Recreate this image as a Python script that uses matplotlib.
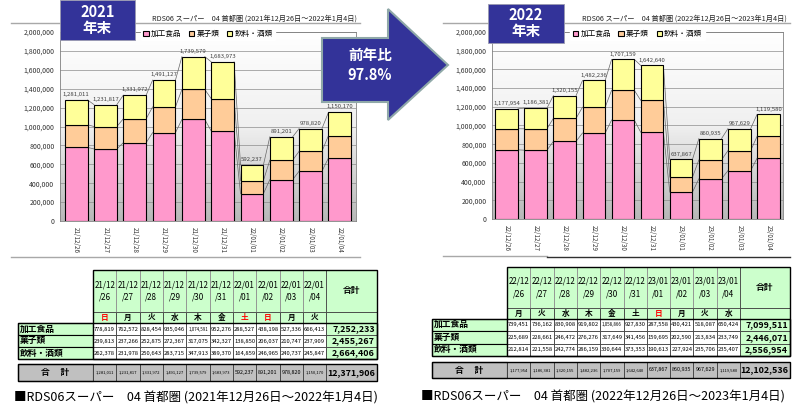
import numpy as np
import matplotlib.pyplot as plt
from matplotlib.patches import Rectangle, Polygon
from matplotlib.colors import LinearSegmentedColormap

plt.rcParams['font.family'] = ['Noto Sans CJK JP', 'DejaVu Sans']

# series
series_names = ['加工食品', '菓子類', '飲料・酒類']
series_colors = ['#FF99CC', '#FFCC99', '#FFFF99']

# 2021年末
dates_2021 = ['21/12/26', '21/12/27', '21/12/28', '21/12/29', '21/12/30',
              '21/12/31', '22/01/01', '22/01/02', '22/01/03', '22/01/04']
days_2021 = ['日', '月', '火', '水', '木', '金', '土', '日', '月', '火']
holiday_2021 = [1, 0, 0, 0, 0, 0, 1, 1, 0, 0]
kakou_2021 = [778819, 762572, 828454, 935046, 1074591, 952276, 288527, 438198, 527336, 666413]
kashi_2021 = [239813, 237266, 252875, 272367, 317075, 342327, 138850, 206037, 210747, 237909]
inryo_2021 = [262378, 231978, 250643, 283715, 347913, 389370, 164859, 246965, 240737, 245847]
total_2021 = [1281011, 1231817, 1331972, 1491127, 1739579, 1683973, 592237, 891201, 978820, 1150170]
sums_2021 = [7252233, 2455267, 2664406]
grand_2021 = 12371906
title_2021 = 'RDS06 スーパー　04 首都圏 (2021年12月26日～2022年1月4日)'
caption_2021 = '■RDS06スーパー　04 首都圏 (2021年12月26日～2022年1月4日)'

# 2022年末
dates_2022 = ['22/12/26', '22/12/27', '22/12/28', '22/12/29', '22/12/30',
              '22/12/31', '23/01/01', '23/01/02', '23/01/03', '23/01/04']
days_2022 = ['月', '火', '水', '木', '金', '土', '日', '月', '火', '水']
holiday_2022 = [0, 0, 0, 0, 0, 0, 1, 0, 0, 0]
kakou_2022 = [739451, 736162, 830908, 919802, 1058866, 927830, 287558, 430421, 518087, 650424]
kashi_2022 = [225689, 228661, 246472, 276276, 317649, 341456, 159695, 202590, 213834, 233749]
inryo_2022 = [212814, 221558, 242774, 286159, 330644, 373353, 190613, 227924, 235706, 235407]
total_2022 = [1177954, 1186381, 1320155, 1482236, 1707159, 1642640, 637867, 860935, 967629, 1119580]
sums_2022 = [7099511, 2446071, 2556954]
grand_2022 = 12102536
title_2022 = 'RDS06 スーパー　04 首都圏 (2022年12月26日～2023年1月4日)'
caption_2022 = '■RDS06スーパー　04 首都圏 (2022年12月26日～2023年1月4日)'

yoy_text = '前年比\n97.8%'
navy = '#333399'


def draw_chart(ax, dates, kakou, kashi, inryo, totals, xlim):
    n = len(dates)
    x = np.arange(n)
    w = 0.78
    ymax = 2000000
    # gray gradient background like excel
    cmap = LinearSegmentedColormap.from_list('bg', ['#FFFFFF', '#F0F0F0', '#B8B8B8'])
    ax.imshow(np.linspace(0, 1, 200).reshape(-1, 1), cmap=cmap, aspect='auto',
              extent=[xlim[0], xlim[1], 0, ymax], zorder=0)
    ax.set_xlim(*xlim)
    ax.set_ylim(0, ymax)
    ax.set_axisbelow(True)
    ax.yaxis.grid(True, color='#8C8C8C', lw=0.5)

    bottom = np.zeros(n)
    for vals, name, col in zip([kakou, kashi, inryo], series_names, series_colors):
        vals = np.array(vals)
        ax.bar(x, vals, w, bottom=bottom, color=col, edgecolor='black', lw=0.8,
               label=name, zorder=3)
        top = bottom + vals
        # series lines between bars
        for i in range(n - 1):
            ax.plot([x[i] + w / 2, x[i + 1] - w / 2], [top[i], top[i + 1]],
                    color='#666666', lw=0.5, zorder=2)
        bottom = top

    for xi, t in zip(x, totals):
        ax.text(xi, t + 30000, f'{t:,}', ha='center', va='bottom', fontsize=4.3,
                color='#404040', zorder=4)

    ax.set_xticks(x)
    ax.set_xticklabels(dates, rotation=270, fontsize=4.5, color='#333333')
    yt = np.arange(0, ymax + 1, 200000)
    ax.set_yticks(yt)
    ax.set_yticklabels([f'{v:,}' for v in yt], fontsize=5, color='#333333')
    ax.tick_params(length=0, pad=4)
    for s in ax.spines.values():
        s.set_color('#808080')
        s.set_linewidth(0.6)
    ax.legend(loc='center', bbox_to_anchor=(0.5, 0.99), ncol=3, fontsize=5.5,
              frameon=True, fancybox=False, edgecolor='white', framealpha=1,
              handlelength=0.7, handleheight=0.7, handletextpad=0.3,
              columnspacing=1.0, borderpad=0.3)


def draw_table(ov, gx, gy, dates, days, holidays, rows, sums, totals, grand):
    # gx: label left, date left, column width, right end
    # gy: header top, day top, data top, row height, total top, total bottom
    xl, xd, cw, xr = gx
    yh, yd, yr, rh, yt0, yt1 = gy
    n = len(dates)
    xs = xd + n * cw
    green = '#CCFFCC'
    gray = '#C0C0C0'

    def cell(x, y, w, h, fc, ec='#404040', lw=0.6):
        ov.add_patch(Rectangle((x, y), w, h, facecolor=fc, edgecolor=ec, lw=lw))

    for i, d in enumerate(dates):
        cx = xd + i * cw
        cell(cx, yh, cw, yd - yh, green, '#909090')
        ov.text(cx + cw / 2, (yh + yd) / 2, d[:5] + '\n/' + d[6:], ha='center',
                va='center', fontsize=5.8, linespacing=1.5)
        cell(cx, yd, cw, yr - yd, green)
        ov.text(cx + cw / 2, (yd + yr) / 2, days[i], ha='center', va='center',
                fontsize=5.5, fontweight='bold',
                color='red' if holidays[i] else 'black')
    cell(xs, yh, xr - xs, yd - yh, green)
    ov.text((xs + xr) / 2, (yh + yd) / 2, '合計', ha='center', va='center',
            fontsize=6.3, fontweight='bold')
    cell(xs, yd, xr - xs, yr - yd, green)

    for r, (name, vals, s) in enumerate(zip(series_names, rows, sums)):
        y = yr + r * rh
        cell(xl, y, xd - xl, rh, green, 'black', 0.8)
        ov.text(xl + 2, y + rh / 2, name, ha='left', va='center', fontsize=6.3,
                fontweight='bold')
        for i, v in enumerate(vals):
            cell(xd + i * cw, y, cw, rh, 'white')
            ov.text(xd + i * cw + cw / 2, y + rh / 2, f'{v:,}', ha='center',
                    va='center', fontsize=4.2 if v < 1000000 else 3.2)
        cell(xs, y, xr - xs, rh, green)
        ov.text(xr - 2, y + rh / 2, f'{s:,}', ha='right', va='center',
                fontsize=6.4, fontweight='bold')

    th = yt1 - yt0
    cell(xl, yt0, xd - xl, th, gray, 'black', 0.8)
    ov.text((xl + xd) / 2, yt0 + th / 2, '合　 計', ha='center', va='center',
            fontsize=6.3, fontweight='bold')
    for i, v in enumerate(totals):
        cell(xd + i * cw, yt0, cw, th, gray)
        ov.text(xd + i * cw + cw / 2, yt0 + th / 2, f'{v:,}', ha='center',
                va='center', fontsize=3.9 if v < 1000000 else 3.0)
    cell(xs, yt0, xr - xs, th, gray)
    ov.text(xr - 2, yt0 + th / 2, f'{grand:,}', ha='right', va='center',
            fontsize=6.4, fontweight='bold')

    # outer borders
    ov.add_patch(Rectangle((xd, yh), xr - xd, yr + 3 * rh - yh, fill=False,
                           edgecolor='black', lw=1))
    ov.add_patch(Rectangle((xl, yr), xr - xl, 3 * rh, fill=False,
                           edgecolor='black', lw=1))
    ov.add_patch(Rectangle((xl, yt0), xr - xl, th, fill=False,
                           edgecolor='black', lw=1))


fig = plt.figure(figsize=(8, 4.13), dpi=100)

ax1 = fig.add_axes([60 / 800, 1 - 221 / 413, 296 / 800, 189 / 413])
draw_chart(ax1, dates_2021, kakou_2021, kashi_2021, inryo_2021, total_2021, (-0.55, 9.55))

ax2 = fig.add_axes([492 / 800, 1 - 219 / 413, 291 / 800, 187 / 413])
draw_chart(ax2, dates_2022, kakou_2022, kashi_2022, inryo_2022, total_2022, (-0.5, 9.5))

# overlay in pixel coordinates
ov = fig.add_axes([0, 0, 1, 1], zorder=5)
ov.set_xlim(0, 800)
ov.set_ylim(413, 0)
ov.axis('off')
ov.patch.set_alpha(0)

# chart frame lines and titles
ov.plot([11, 360], [23, 23], color='#A8A8A8', lw=1)
ov.plot([11, 360], [257, 257], color='#A8A8A8', lw=1)
ov.plot([443, 790], [23, 23], color='#A8A8A8', lw=1)
ov.plot([443, 547], [256, 256], color='#A8A8A8', lw=1)
ov.plot([547, 790], [257, 257], color='#303030', lw=1)
ov.text(152, 19, title_2021, fontsize=5.2, va='center', color='#222222')
ov.text(582, 19, title_2022, fontsize=5.2, va='center', color='#222222')

# year boxes
ov.add_patch(Rectangle((60, 0), 75, 40, facecolor=navy, edgecolor='#9A9AB0', lw=0.6, zorder=4))
ov.text(97.5, 12, '2021', ha='center', va='center', color='white', fontsize=10.5,
        fontweight='bold', zorder=5)
ov.text(97.5, 28, '年末', ha='center', va='center', color='white', fontsize=10.5,
        fontweight='bold', zorder=5)
ov.add_patch(Rectangle((488, 4), 76, 39, facecolor=navy, edgecolor='#9A9AB0', lw=0.6, zorder=4))
ov.text(526, 15, '2022', ha='center', va='center', color='white', fontsize=10.5,
        fontweight='bold', zorder=5)
ov.text(526, 31, '年末', ha='center', va='center', color='white', fontsize=10.5,
        fontweight='bold', zorder=5)

# arrow
arrow = [(322, 38), (388, 38), (388, 9), (448, 65), (388, 120), (388, 102), (322, 102)]
ov.add_patch(Polygon(arrow, closed=True, facecolor=navy, edgecolor='#8FA8A8', lw=1.5, zorder=4))
ov.text(370, 65, yoy_text, ha='center', va='center', color='white', fontsize=10.5,
        fontweight='bold', linespacing=1.3, zorder=5)

# tables
draw_table(ov, (18, 93, 23.33, 377), (270, 312, 323, 12, 364, 381),
           dates_2021, days_2021, holiday_2021, [kakou_2021, kashi_2021, inryo_2021],
           sums_2021, total_2021, grand_2021)
draw_table(ov, (432, 507, 23.3, 790), (267, 308, 318.5, 12.5, 362, 378),
           dates_2022, days_2022, holiday_2022, [kakou_2022, kashi_2022, inryo_2022],
           sums_2022, total_2022, grand_2022)

ov.text(14, 398, caption_2021, fontsize=9, va='center')
ov.text(421, 397, caption_2022, fontsize=9, va='center')

plt.savefig('out.png', dpi=100)
